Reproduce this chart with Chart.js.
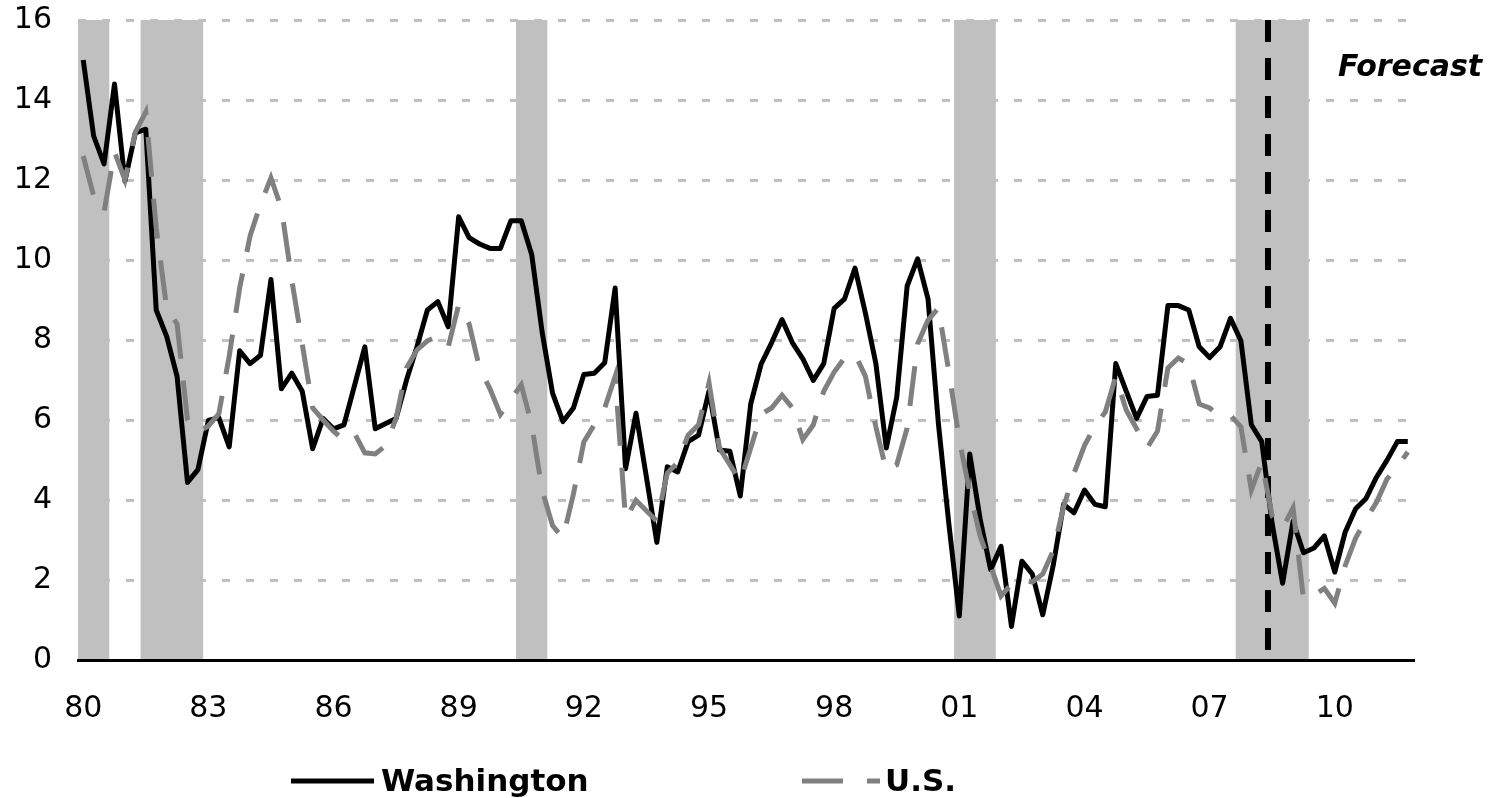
<!DOCTYPE html>
<html>
<head>
<meta charset="utf-8">
<title>Washington vs U.S.</title>
<script src="https://cdn.jsdelivr.net/npm/chart.js@4.4.0/dist/chart.umd.min.js"></script>
<style>
  html, body { margin: 0; padding: 0; background: #fff; }
  #chart { display: block; }
</style>
</head>
<body>
<canvas id="chart" width="1510" height="798"></canvas>
<script>
// quarterly data, 1980Q1 - 2011Q4
var firstYear = 1980;
var lastYear = 2011;

var tickYears = ['80', '83', '86', '89', '92', '95', '98', '01', '04', '07', '10'];

var washington = [
    15.0, 13.1, 12.4, 14.4,   11.97, 13.18, 13.27, 8.75,
    8.09, 7.09, 4.44, 4.76,   5.99, 6.06, 5.33, 7.73,
    7.41, 7.62, 9.51, 6.78,   7.17, 6.72, 5.28, 6.04,
    5.78, 5.88, 6.85, 7.83,   5.78, 5.91, 6.04, 7.0,
    7.83, 8.75, 8.96, 8.33,   11.08, 10.56, 10.4, 10.29,
    10.29, 10.98, 10.98, 10.14,   8.2, 6.67, 5.96, 6.3,
    7.14, 7.17, 7.43, 9.3,    4.78, 6.17, 4.57, 2.94,
    4.83, 4.7, 5.46, 5.62,    6.72, 5.25, 5.22, 4.1,
    6.4, 7.4, 7.93, 8.51,     7.93, 7.53, 6.99, 7.41,
    8.79, 9.03, 9.8, 8.67,    7.41, 5.3, 6.57, 9.35,
    10.03, 9.03, 5.9, 3.4,    1.1, 5.15, 3.52, 2.26,
    2.84, 0.84, 2.47, 2.15,   1.13, 2.36, 3.89, 3.68,
    4.25, 3.89, 3.83, 7.41,   6.72, 6.04, 6.59, 6.62,
    8.86, 8.86, 8.75, 7.83,   7.56, 7.83, 8.54, 7.98,
    5.88, 5.46, 3.4, 1.92,    3.47, 2.68, 2.8, 3.1,
    2.2, 3.2, 3.78, 4.04,     4.57, 4.99, 5.46, 5.46
];

var us = [
    12.6, 11.6, 11.2, 12.7,   12.0, 13.2, 13.7, 10.8,
    8.8, 8.4, 6.0, 5.7,       5.85, 6.15, 7.6, 9.3,
    10.6, 11.4, 12.05, 11.3,  9.5, 7.9, 6.3, 6.0,
    5.72, 5.5, 5.67, 5.18,    5.15, 5.36, 6.04, 7.3,
    7.75, 7.98, 8.09, 7.83,   8.88, 8.4, 7.3, 6.78,
    6.14, 6.51, 6.88, 5.88,   4.25, 3.36, 3.05, 4.15,
    5.45, 5.88, 6.3, 7.09,    3.52, 3.99, 3.73, 3.47,
    4.67, 4.94, 5.62, 5.88,   6.93, 5.3, 4.88, 4.46,
    5.3, 6.14, 6.3, 6.62,     6.3, 5.51, 5.88, 6.72,
    7.2, 7.55, 7.65, 7.09,    5.83, 4.73, 4.88, 5.8,
    7.9, 8.5, 8.8, 7.2,       5.5, 4.2, 3.1, 2.36,
    1.6, 1.9, 2.0, 1.95,      2.15, 2.73, 3.83, 4.67,
    5.36, 5.85, 6.2, 7.09,    6.25, 5.78, 5.3, 5.72,
    7.3, 7.55, 7.4, 6.4,      6.3, 6.09, 6.12, 5.83,
    4.25, 4.95, 3.6, 3.3,     3.8, 1.52, 1.63, 1.79,
    1.42, 2.36, 3.05, 3.52,   3.94, 4.52, 4.83, 5.2
];

// recessions (shaded) and start of forecast
var recessionStart = ['1980Q1', '1981Q3', '1990Q3', '2001Q1', '2007Q4'];
var recessionEnd = ['1980Q3', '1982Q4', '1991Q1', '2001Q4', '2009Q2'];
var forecastStart = '2008Q3';

var quarters = [];
for (var y = firstYear; y <= lastYear; y++) {
    for (var q = 1; q <= 4; q++) {
        quarters.push(y + 'Q' + q);
    }
}

var FONT = '"DejaVu Sans", Verdana, sans-serif';

var extras = {
    id: 'extras',
    beforeDraw: function (chart) {
        var ctx = chart.ctx;
        var x = chart.scales.x;
        var area = chart.chartArea;
        var step = x.getPixelForValue(1) - x.getPixelForValue(0);
        ctx.save();
        ctx.fillStyle = '#c0c0c0';
        for (var i = 0; i < recessionStart.length; i++) {
            var a = x.getPixelForValue(quarters.indexOf(recessionStart[i])) - step / 2;
            var b = x.getPixelForValue(quarters.indexOf(recessionEnd[i])) + step / 2;
            ctx.fillRect(a, area.top, b - a, area.bottom - area.top);
        }
        ctx.restore();
    },
    beforeDatasetsDraw: function (chart) {
        var ctx = chart.ctx;
        var x = chart.scales.x;
        var area = chart.chartArea;
        var step = x.getPixelForValue(1) - x.getPixelForValue(0);
        var fx = x.getPixelForValue(quarters.indexOf(forecastStart)) - step / 2 + 1;
        ctx.save();
        ctx.strokeStyle = '#000';
        ctx.lineWidth = 6;
        ctx.setLineDash([22, 16]);
        ctx.beginPath();
        ctx.moveTo(fx, area.top);
        ctx.lineTo(fx, area.bottom);
        ctx.stroke();
        ctx.restore();
    },
    afterDraw: function (chart) {
        var ctx = chart.ctx;
        ctx.save();
        // Forecast label
        ctx.fillStyle = '#000';
        ctx.font = 'italic bold 30px ' + FONT;
        ctx.textBaseline = 'alphabetic';
        ctx.textAlign = 'left';
        ctx.fillText('Forecast', 1338, 76);

        // legend
        ctx.font = 'bold 31px ' + FONT;
        ctx.lineWidth = 5;
        ctx.strokeStyle = '#000';
        ctx.setLineDash([]);
        ctx.beginPath();
        ctx.moveTo(291, 781);
        ctx.lineTo(374, 781);
        ctx.stroke();
        ctx.fillText('Washington', 381, 791);

        ctx.strokeStyle = '#808080';
        ctx.setLineDash([41, 24]);
        ctx.beginPath();
        ctx.moveTo(802, 781);
        ctx.lineTo(880, 781);
        ctx.stroke();
        ctx.fillText('U.S.', 885, 791);
        ctx.restore();
    }
};

new Chart(document.getElementById('chart'), {
    type: 'line',
    data: {
        labels: quarters,
        datasets: [
            {
                label: 'Washington',
                data: washington,
                borderColor: '#000000',
                borderWidth: 5,
                borderJoinStyle: 'round',
                pointRadius: 0,
                tension: 0,
                order: 1
            },
            {
                label: 'U.S.',
                data: us,
                borderColor: '#808080',
                borderWidth: 5,
                borderDash: [40, 22],
                pointRadius: 0,
                tension: 0,
                order: 0
            }
        ]
    },
    options: {
        responsive: false,
        animation: false,
        devicePixelRatio: 1,
        layout: { padding: { left: 0, right: 97, top: 20, bottom: 0 } },
        plugins: {
            legend: { display: false },
            tooltip: { enabled: false }
        },
        scales: {
            x: {
                type: 'category',
                offset: true,
                afterFit: function (scale) {
                    scale.height = 138;
                    scale.paddingLeft = 0;
                    scale.paddingRight = 0;
                },
                grid: {
                    offset: true,
                    drawOnChartArea: false,
                    drawTicks: true,
                    tickLength: 11,
                    lineWidth: 3,
                    color: function (c) { return c.index % 12 === 0 ? '#000' : 'rgba(0,0,0,0)'; }
                },
                border: { display: true, color: '#000', width: 3 },
                ticks: {
                    autoSkip: false,
                    maxRotation: 0,
                    padding: 20,
                    color: '#000',
                    font: { family: FONT, size: 30 },
                    callback: function (val, idx) {
                        return idx % 12 === 0 ? tickYears[idx / 12] : null;
                    }
                }
            },
            y: {
                min: 0,
                max: 16,
                afterFit: function (scale) {
                    scale.width = 78;
                    scale.paddingTop = 0;
                    scale.paddingBottom = 0;
                },
                grid: {
                    color: '#c0c0c0',
                    lineWidth: 3,
                    drawTicks: false
                },
                border: { display: false, dash: [8, 16] },
                ticks: {
                    stepSize: 2,
                    padding: 26,
                    color: '#000',
                    font: { family: FONT, size: 30 }
                }
            }
        }
    },
    plugins: [extras]
});
</script>
</body>
</html>
